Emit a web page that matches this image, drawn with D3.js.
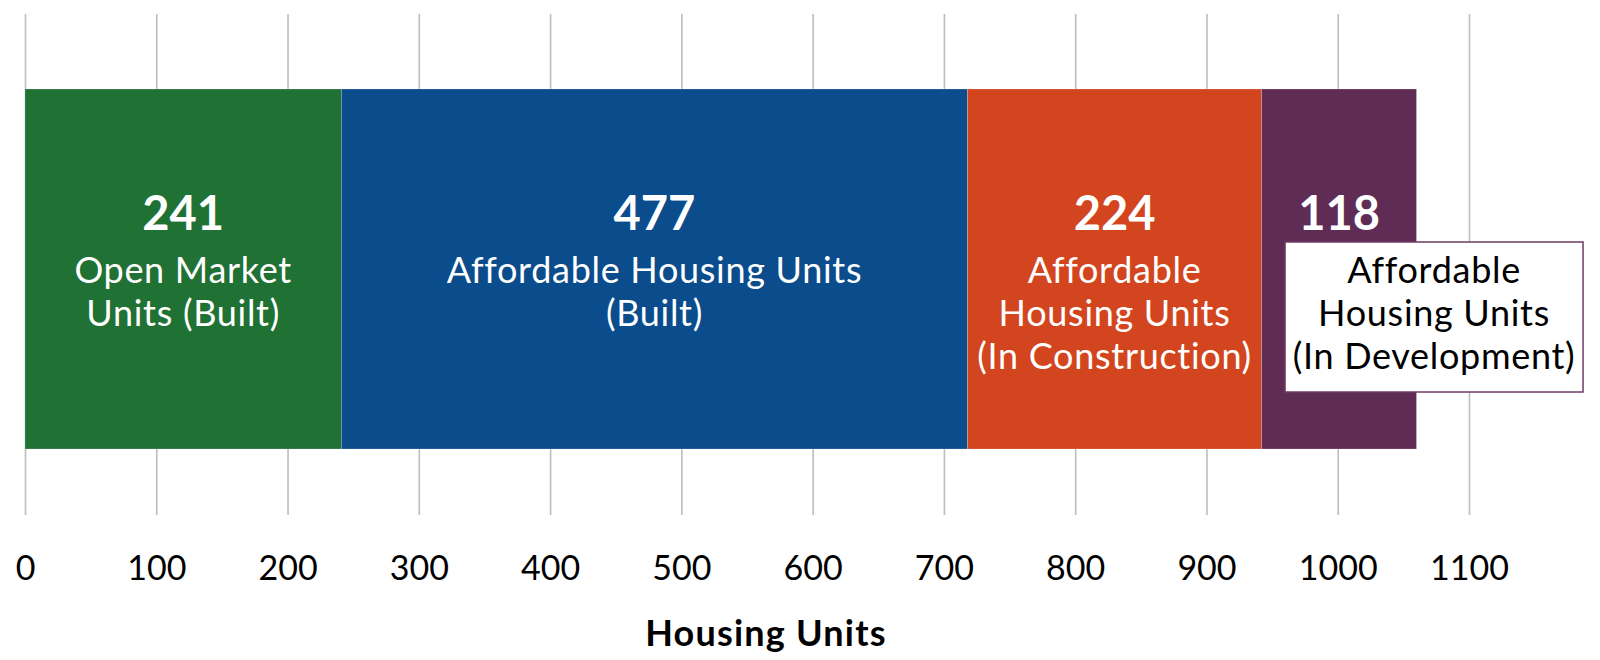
<!DOCTYPE html>
<html>
<head>
<meta charset="utf-8">
<script src="https://cdn.jsdelivr.net/npm/d3@7"></script>
<style>
  body { margin: 0; background: #fff; }
  svg { display: block; font-family: Lato, "Open Sans", sans-serif; }
</style>
</head>
<body>
<svg id="chart" width="1600" height="660"></svg>
<script>
// segments of the stacked bar
const categories = [
  ["Open Market", "Units (Built)"],
  ["Affordable Housing Units", "(Built)"],
  ["Affordable", "Housing Units", "(In Construction)"],
  ["Affordable", "Housing Units", "(In Development)"]
];
const values = [241, 477, 224, 118];
const colors = ["#207134", "#0a4c8c", "#d3451e", "#5e2c54"];
const tickValues = [0, 100, 200, 300, 400, 500, 600, 700, 800, 900, 1000, 1100];

const width = 1600;
const height = 660;
const margin = { top: 14, left: 25, right: 131 };
const gridBottom = 515;
const barTop = 89, barBottom = 449;

const svg = d3.select("#chart");

const x = d3.scaleLinear()
  .domain([0, 1100])
  .range([margin.left, width - margin.right]);

// cumulative starts
let acc = 0;
const segs = values.map((v, i) => {
  const s = { start: acc, end: acc + v, value: v, lines: categories[i], color: colors[i], i };
  acc += v;
  return s;
});

// grid + tick labels
const xAxis = (g) =>
  g.attr("transform", `translate(0,${gridBottom})`)
    .call(d3.axisBottom(x).tickValues(tickValues).tickSize(-(gridBottom - margin.top)).tickFormat(d3.format("d")))
    .call((g) => g.select(".domain").remove())
    .call((g) => g.selectAll(".tick line").attr("stroke", "#bdbdbd").attr("stroke-width", 1.6))
    .call((g) => g.selectAll(".tick text")
      .attr("y", 65).attr("dy", 0)
      .attr("fill", "#000")
      .style("font-size", "34px")
      .style("font-family", "Lato, sans-serif"));

svg.append("g").attr("class", "x-axis").call(xAxis);

svg.append("text")
  .attr("x", 766)
  .attr("y", 646)
  .attr("text-anchor", "middle")
  .style("font-size", "36px")
  .style("letter-spacing", "1.2px")
  .style("font-weight", "bold")
  .text("Housing Units");

// bars
svg.append("g")
  .selectAll("rect")
  .data(segs)
  .join("rect")
  .attr("x", (d) => x(d.start))
  .attr("width", (d) => x(d.end) - x(d.start))
  .attr("y", barTop)
  .attr("height", barBottom - barTop)
  .attr("fill", (d) => d.color)
  .attr("stroke", "rgba(255,255,255,0.25)")
  .attr("stroke-width", 0.8);

// labels
const lab = svg.append("g")
  .selectAll("g")
  .data(segs)
  .join("g");

lab.append("text")
  .attr("x", (d) => x((d.start + d.end) / 2))
  .attr("y", 230)
  .attr("text-anchor", "middle")
  .attr("fill", "#fff")
  .style("font-size", "47px")
  .style("font-weight", "bold")
  .text((d) => d.value);

lab.each(function (d) {
  const g = d3.select(this);
  const last = d.i === segs.length - 1;
  const cx = last ? x((d.start + d.end) / 2) + 95 : x((d.start + d.end) / 2);
  const box = last ? g.append("rect") : null;
  const t = g.append("text")
    .attr("text-anchor", "middle")
    .attr("fill", last ? "#000" : "#fff")
    .style("font-size", "36px")
    .style("letter-spacing", "0.7px");
  t.selectAll("tspan")
    .data(d.lines)
    .join("tspan")
    .attr("x", cx)
    .attr("y", (s, k) => 283 + k * 43)
    .text((s) => s);
  if (last) {
    box.attr("x", cx - 149)
      .attr("y", 242)
      .attr("width", 298)
      .attr("height", 150)
      .attr("fill", "#fff")
      .attr("stroke", "#6e3c64")
      .attr("stroke-width", 1.5);
  }
});
</script>
</body>
</html>
